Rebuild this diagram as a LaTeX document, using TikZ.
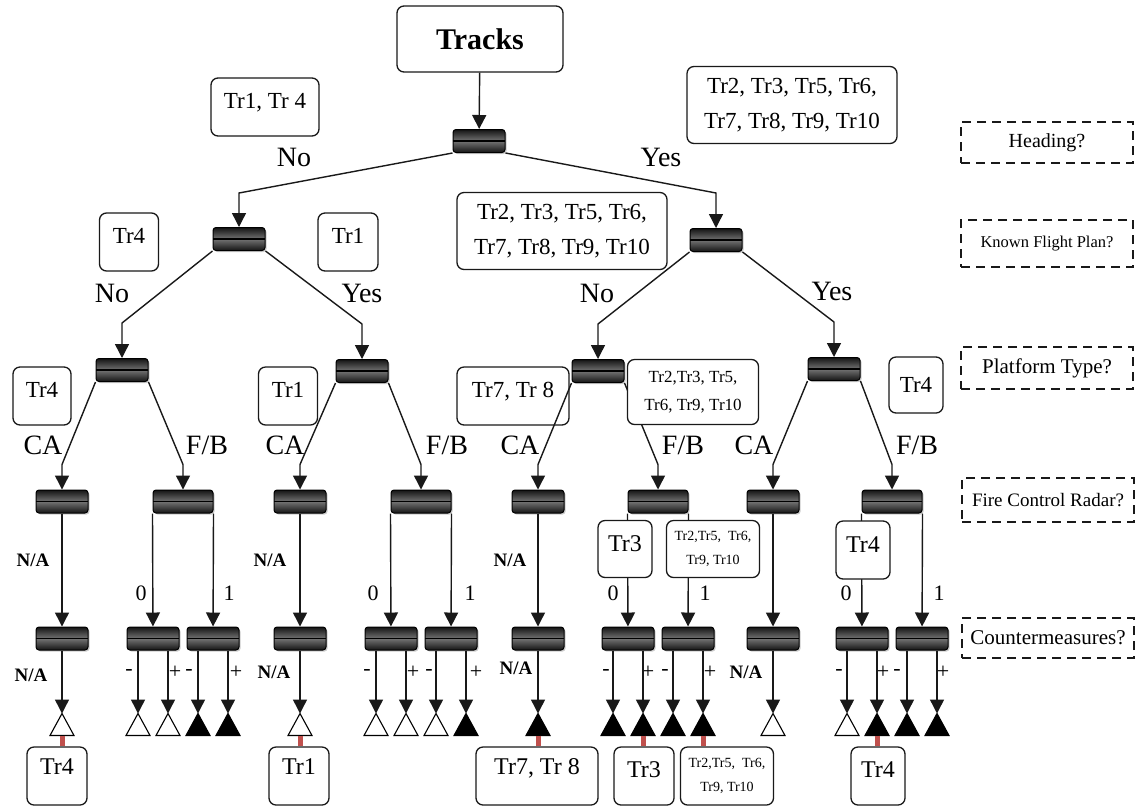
\documentclass[tikz,border=0pt]{standalone}
\usepackage{fontspec}
\setmainfont{Liberation Serif}
\usetikzlibrary{positioning, arrows.meta, shadows}
\definecolor{dtred}{HTML}{C0504D}

\begin{document}
\begin{tikzpicture}[x=1pt, y=-1pt,
    gate/.style={rounded corners=3pt, draw=black, line width=1pt,
      minimum width=52pt, minimum height=23pt, inner sep=0pt,
      top color=black!92, bottom color=black!92, middle color=black!55,
      drop shadow={shadow xshift=1.5pt, shadow yshift=-1.5pt, opacity=0.4},
      path picture={\draw[black, line width=1.6pt]
        (path picture bounding box.west) -- (path picture bounding box.east);}},
    wide/.style={gate, minimum width=60pt},
    info/.style={draw=black!90, fill=white, rounded corners=7pt, line width=1.3pt,
      align=center, inner sep=1pt, font=\fontsize{23}{35}\selectfont},
    quest/.style={draw=black!90, line width=2pt, dash pattern=on 9pt off 6pt,
      minimum width=172pt, inner sep=0pt},
    arr/.style={draw=black!90, line width=1.4pt, -{Triangle[width=14pt, length=14pt]}},
    branch/.style={font=\fontsize{28}{28}\selectfont},
    bit/.style={font=\fontsize{22}{22}\selectfont},
    na/.style={font=\fontsize{19}{19}\selectfont\bfseries},
    redbar/.style={draw=dtred, line width=5pt}]

  \fill[white] (0,0) rectangle (1142,807);
  \useasboundingbox (0,0) rectangle (1142,807);

  \node[info, minimum width=166pt, minimum height=66pt,
    font=\fontsize{30}{30}\selectfont\bfseries] (tracks) at (480,39) {Tracks};

  \node[gate] (root) at (479,141) {};
  \node[gate] (n1) at (239,239) {};
  \node[gate] (y1) at (716,240) {};
  \node[gate] (nn) at (122,370) {};
  \node[gate] (ny) at (362,371) {};
  \node[gate] (yn) at (598,371) {};
  \node[gate] (yy) at (834,369) {};

  \node[gate] (fc1) at (62,501.5) {};
  \node[wide] (fc2) at (183,501.5) {};
  \node[gate] (fc3) at (300,501.5) {};
  \node[wide] (fc4) at (421,501.5) {};
  \node[gate] (fc5) at (538,501.5) {};
  \node[wide] (fc6) at (658,501.5) {};
  \node[gate] (fc7) at (773,501.5) {};
  \node[wide] (fc8) at (892,501.5) {};

  \foreach \x [count=\i] in {62,153,213,300,391,451,538,628,688,773,862,922}
    \node[gate] (cm\i) at (\x,638.5) {};

  \draw[arr] (tracks) -- (root);
  \draw[arr] (root.south west) -- ([yshift=34pt]n1.north) -- (n1);
  \draw[arr] (root.south east) -- ([yshift=35pt]y1.north) -- (y1);
  \foreach \p/\l/\r in {n1/nn/ny, y1/yn/yy} {
    \draw[arr] (\p.south west) -- ([yshift=35pt]\l.north) -- (\l);
    \draw[arr] (\p.south east) -- ([yshift=35pt]\r.north) -- (\r);
  }
  \foreach \p/\l/\r in {nn/fc1/fc2, ny/fc3/fc4, yy/fc7/fc8} {
    \draw[arr] (\p.south west) -- ([yshift=25pt]\l.north) -- (\l);
    \draw[arr] (\p.south east) -- ([yshift=25pt]\r.north) -- (\r);
  }
  \draw[arr] (yn.south east) -- ([yshift=25pt]fc6.north) -- (fc6);
  \foreach \a/\b in {fc1/cm1, fc3/cm4, fc5/cm7, fc7/cm10}
    \draw[arr] (\a) -- (\b);
  \foreach \a/\l/\r in {fc2/cm2/cm3, fc4/cm5/cm6, fc6/cm8/cm9, fc8/cm11/cm12} {
    \draw[arr] (\a.south west) -- (\l);
    \draw[arr] (\a.south east) -- (\r);
  }

  \node[info, minimum width=108pt, minimum height=58pt, text depth=12pt] (s1) at (265,107) {Tr1, Tr 4};
  \node[info, minimum width=210pt, minimum height=77pt] (s2) at (792,105)
    {Tr2, Tr3, Tr5, Tr6,\\Tr7, Tr8, Tr9, Tr10};
  \node[info, minimum width=59pt, minimum height=58pt, text depth=12pt] (s3) at (129,242) {Tr4};
  \node[info, minimum width=60pt, minimum height=58pt, text depth=12pt] (s4) at (348,242) {Tr1};
  \node[info, minimum width=210pt, minimum height=77pt] (s5) at (562,231)
    {Tr2, Tr3, Tr5, Tr6,\\Tr7, Tr8, Tr9, Tr10};
  \node[info, minimum width=58pt, minimum height=58pt, text depth=12pt] (s6) at (42,396) {Tr4};
  \node[info, minimum width=59pt, minimum height=58pt, text depth=12pt] (s7) at (288,396) {Tr1};
  \node[info, minimum width=112pt, minimum height=58pt, text depth=12pt] (s8) at (513,396) {Tr7, Tr 8};
  \node[info, minimum width=131pt, minimum height=65pt,
    font=\fontsize{17}{28}\selectfont] (s9) at (693,392) {Tr2,Tr3, Tr5,\\Tr6, Tr9, Tr10};
  \node[info, minimum width=54pt, minimum height=56pt] (s10) at (916,385) {Tr4};
  \node[info, minimum width=54pt, minimum height=57pt, font=\fontsize{24}{24}\selectfont,
    text depth=10pt] (s11) at (625,549) {Tr3};
  \node[info, minimum width=93pt, minimum height=57pt,
    font=\fontsize{14}{24}\selectfont] (s12) at (713,549) {Tr2,Tr5, \ Tr6,\\Tr9, Tr10};
  \node[info, minimum width=54pt, minimum height=58pt, font=\fontsize{24}{24}\selectfont,
    text depth=10pt] (s13) at (863,550) {Tr4};

  \draw[arr] (yn.south west) -- ([yshift=25pt]fc5.north) -- (fc5);

  \node[quest, minimum height=41pt, font=\fontsize{20}{20}\selectfont] (qHead) at (1047,142.5) {Heading?};
  \node[quest, minimum height=47pt, font=\fontsize{16.5}{17}\selectfont] (qPlan) at (1047,243.5) {Known Flight Plan?};
  \node[quest, minimum height=42pt, font=\fontsize{21}{21}\selectfont] (qType) at (1047,368) {Platform Type?};
  \node[quest, minimum height=44pt, font=\fontsize{19}{19}\selectfont] (qRadar) at (1048,500) {Fire Control Radar?};
  \node[quest, minimum height=40pt, font=\fontsize{21}{21}\selectfont] (qCounter) at (1048,638) {Countermeasures?};

  \foreach \x/\y/\t [count=\i] in {294/157/No, 661/157/Yes, 112/293/No, 362/293/Yes,
      597/293/No, 832/291/Yes, 43/445/CA, 207/445/{F/B}, 285/445/CA, 447/445/{F/B},
      520/445/CA, 683/445/{F/B}, 754/445/CA, 917/445/{F/B}}
    \node[branch] (br\i) at (\x,\y) {\t};

  \foreach \x/\y/\t [count=\i] in {141/593/0, 229/593/1, 373/593/0, 470/593/1,
      613/593/0, 705/593/1, 846/593/0, 939/593/1,
      129/672/-, 175/672/+, 189/672/-, 236/672/+, 367/672/-, 413/672/+, 429/672/-, 476/672/+,
      606/672/-, 648/672/+, 665/672/-, 710/672/+, 839/672/-, 883/672/+, 897/672/-, 943/672/+}
    \node[bit] (bt\i) at (\x,\y) {\t};

  \foreach \x/\y [count=\i] in {33/560, 270/560, 510/560, 31/675, 274/672, 516/668, 746/672}
    \node[na] (na\i) at (\x,\y) {N/A};

  \foreach \s/\dx/\f [count=\i] in {cm1/0/white,
      cm2/-15/white, cm2/15/white, cm3/-15/black, cm3/15/black,
      cm4/0/white,
      cm5/-15/white, cm5/15/white, cm6/-15/white, cm6/15/black,
      cm7/0/black,
      cm8/-15/black, cm8/15/black, cm9/-15/black, cm9/15/black,
      cm10/0/white,
      cm11/-15/white, cm11/15/black, cm12/-15/black, cm12/15/black} {
    \path ([xshift=\dx pt]\s.south) ++(0,63) coordinate (lv\i);
    \draw[arr] ([xshift=\dx pt]\s.south) -- (lv\i);
    \filldraw[fill=\f, draw=black, line width=1.1pt] (lv\i) -- ++(-12,22) -- ++(24,0) -- cycle;
  }

  \node[info, minimum width=60pt, minimum height=58pt, text depth=18pt,
    font=\fontsize{24}{24}\selectfont] (out1) at (57,776) {Tr4};
  \node[info, minimum width=60pt, minimum height=58pt, text depth=18pt,
    font=\fontsize{24}{24}\selectfont] (out2) at (299,776) {Tr1};
  \node[info, minimum width=122pt, minimum height=58pt, text depth=18pt,
    font=\fontsize{24}{24}\selectfont] (out3) at (537,776) {Tr7, Tr 8};
  \node[info, minimum width=60pt, minimum height=58pt, text depth=12pt,
    font=\fontsize{24}{24}\selectfont] (out4) at (644,776) {Tr3};
  \node[info, minimum width=93pt, minimum height=58pt,
    font=\fontsize{14}{24}\selectfont] (out5) at (727,776) {Tr2,Tr5, \ Tr6,\\Tr9, Tr10};
  \node[info, minimum width=54pt, minimum height=58pt, text depth=12pt,
    font=\fontsize{24}{24}\selectfont] (out6) at (878,776) {Tr4};

  \foreach \l/\b in {lv1/out1, lv6/out2, lv11/out3, lv13/out4, lv15/out5, lv18/out6}
    \draw[redbar] ([yshift=-22pt]\l) -- (\l |- \b.north);
\end{tikzpicture}
\end{document}
